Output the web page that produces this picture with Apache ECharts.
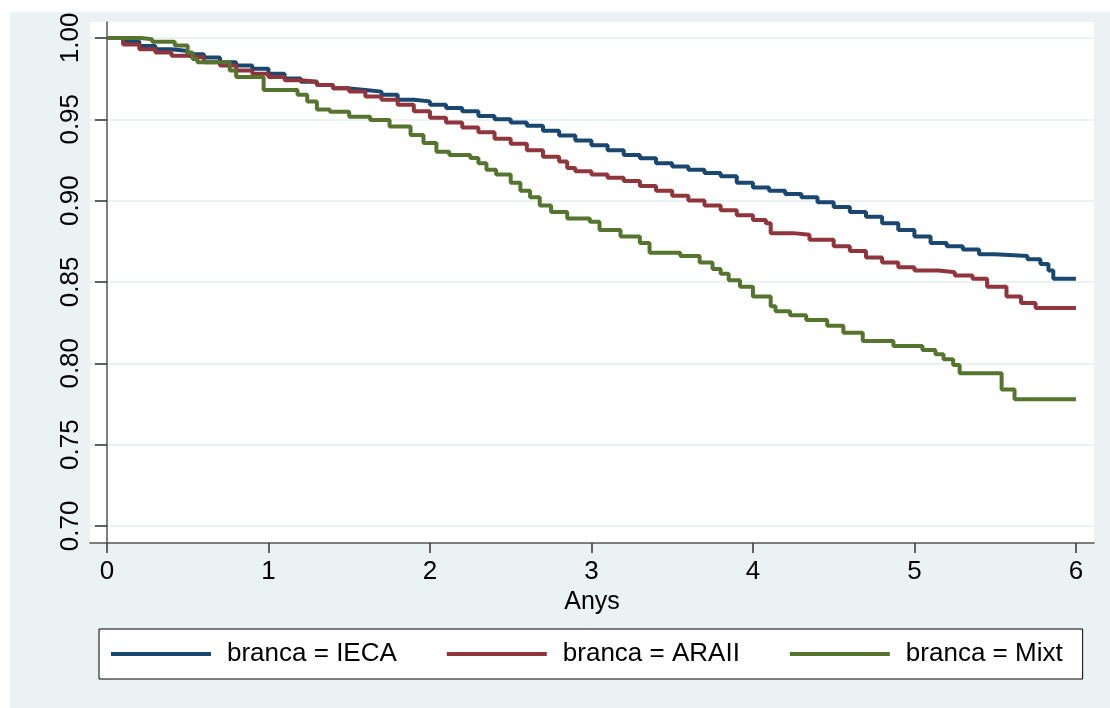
<!DOCTYPE html>
<html>
<head>
<meta charset="utf-8">
<script src="https://cdn.jsdelivr.net/npm/echarts@6/dist/echarts.min.js"></script>
<style>
  html, body { margin: 0; padding: 0; background: #fff; }
  #chart { width: 1110px; height: 708px; }
</style>
</head>
<body>
<div id="chart"></div>
<script>
// Kaplan-Meier survival by branca
var seriesNames = ['branca = IECA', 'branca = ARAII', 'branca = Mixt'];
var xTicks = [0, 1, 2, 3, 4, 5, 6];
var yTicks = [0.70, 0.75, 0.80, 0.85, 0.90, 0.95, 1.00];

var iecaT = [0, 0.1, 0.2, 0.3, 0.4, 0.5, 0.6, 0.7, 0.8, 0.9, 1.0, 1.1, 1.2, 1.3, 1.4, 1.5, 1.6, 1.7, 1.8, 1.9,
  2.0, 2.1, 2.2, 2.3, 2.4, 2.5, 2.6, 2.7, 2.8, 2.9, 3.0, 3.1, 3.2, 3.3, 3.4, 3.5, 3.6, 3.7, 3.8, 3.9,
  4.0, 4.1, 4.2, 4.3, 4.4, 4.5, 4.6, 4.7, 4.8, 4.9, 5.0, 5.1, 5.2, 5.3, 5.4, 5.5, 5.7, 5.78, 5.83, 5.86, 6.0];
var iecaS = [1.000, 0.998, 0.995, 0.993, 0.992, 0.990, 0.988, 0.985, 0.983, 0.981, 0.978, 0.975, 0.973, 0.971, 0.969, 0.968, 0.967, 0.965, 0.962, 0.961,
  0.959, 0.957, 0.955, 0.952, 0.950, 0.948, 0.946, 0.943, 0.940, 0.937, 0.934, 0.931, 0.928, 0.926, 0.923, 0.921, 0.919, 0.917, 0.915, 0.911,
  0.908, 0.906, 0.904, 0.902, 0.899, 0.896, 0.893, 0.890, 0.886, 0.882, 0.878, 0.874, 0.872, 0.870, 0.867, 0.866, 0.864, 0.861, 0.857, 0.852, 0.852];

var araiiT = [0, 0.1, 0.2, 0.3, 0.4, 0.5, 0.6, 0.7, 0.8, 0.9, 1.0, 1.1, 1.2, 1.3, 1.4, 1.5, 1.6, 1.7, 1.8, 1.9,
  2.0, 2.1, 2.2, 2.3, 2.4, 2.5, 2.6, 2.7, 2.8, 2.85, 2.9, 3.0, 3.1, 3.2, 3.3, 3.4, 3.5, 3.6, 3.7, 3.8, 3.9,
  4.0, 4.08, 4.11, 4.25, 4.35, 4.5, 4.6, 4.7, 4.8, 4.9, 5.0, 5.15, 5.25, 5.36, 5.45, 5.57, 5.66, 5.75, 6.0];
var araiiS = [1.000, 0.996, 0.993, 0.991, 0.989, 0.988, 0.985, 0.983, 0.980, 0.978, 0.976, 0.974, 0.973, 0.971, 0.969, 0.967, 0.964, 0.962, 0.959, 0.955,
  0.951, 0.948, 0.945, 0.942, 0.938, 0.935, 0.931, 0.927, 0.924, 0.920, 0.918, 0.916, 0.914, 0.912, 0.909, 0.906, 0.903, 0.900, 0.897, 0.894, 0.891,
  0.888, 0.886, 0.880, 0.879, 0.876, 0.872, 0.869, 0.865, 0.862, 0.859, 0.857, 0.856, 0.854, 0.852, 0.847, 0.841, 0.837, 0.834, 0.834];

var mixtT = [0, 0.21, 0.28, 0.42, 0.5, 0.53, 0.56, 0.76, 0.80, 0.97, 1.18, 1.24, 1.3, 1.38, 1.5, 1.63, 1.75, 1.88, 1.96,
  2.04, 2.12, 2.25, 2.3, 2.35, 2.41, 2.5, 2.56, 2.62, 2.68, 2.75, 2.85, 2.99, 3.05, 3.18, 3.3, 3.36, 3.55, 3.67, 3.75, 3.8, 3.85, 3.92,
  4.0, 4.11, 4.14, 4.23, 4.33, 4.46, 4.56, 4.68, 4.87, 5.05, 5.13, 5.18, 5.24, 5.28, 5.54, 5.62, 6.0];
var mixtS = [1.000, 0.9992, 0.9977, 0.9953, 0.991, 0.987, 0.985, 0.980, 0.976, 0.968, 0.965, 0.961, 0.956, 0.9547, 0.9516, 0.9496, 0.9455, 0.9403, 0.9354,
  0.930, 0.928, 0.9262, 0.923, 0.919, 0.916, 0.911, 0.906, 0.902, 0.897, 0.893, 0.889, 0.887, 0.882, 0.878, 0.874, 0.868, 0.866, 0.862, 0.858, 0.855, 0.851, 0.847,
  0.841, 0.835, 0.832, 0.8295, 0.8266, 0.823, 0.8188, 0.8137, 0.8106, 0.8081, 0.8055, 0.8024, 0.799, 0.7938, 0.7839, 0.7778, 0.7778];

function pairs(t, s) {
  return t.map(function (v, i) { return [v, s[i]]; });
}

var colors = ['#1A476F', '#90353B', '#55752F'];
var font = 'Liberation Sans, Arial, sans-serif';

var myChart = echarts.init(document.getElementById('chart'));
myChart.setOption({
  animation: false,
  backgroundColor: '#fff',
  color: colors,
  graphic: [
    { type: 'rect', z: -10, shape: { x: 10, y: 12, width: 1100, height: 696 }, style: { fill: '#EAF2F3' } }
  ],
  grid: {
    show: true,
    left: 90,
    top: 22,
    width: 1004,
    height: 521,
    backgroundColor: '#fff',
    borderWidth: 0
  },
  legend: {
    data: seriesNames,
    left: 99,
    top: 629,
    padding: [12, 20, 12, 12],
    itemGap: 50,
    itemWidth: 100,
    itemHeight: 4,
    icon: 'rect',
    backgroundColor: '#fff',
    borderColor: '#000',
    borderWidth: 1,
    borderRadius: 0,
    textStyle: { fontFamily: font, fontSize: 26, color: '#000', padding: [0, 0, 0, 11] }
  },
  xAxis: {
    type: 'value',
    min: -0.105,
    max: 6.112,
    name: 'Anys',
    nameLocation: 'middle',
    nameGap: 44,
    nameTextStyle: { fontFamily: font, fontSize: 25, color: '#000' },
    axisLine: { lineStyle: { color: '#555', width: 1.5 } },
    axisTick: { length: 10, lineStyle: { color: '#333', width: 1.5 }, customValues: xTicks },
    axisLabel: { customValues: xTicks, margin: 16, fontFamily: font, fontSize: 26, color: '#000' },
    splitLine: { show: false }
  },
  yAxis: {
    type: 'value',
    min: 0.6895,
    max: 1.0098,
    axisLine: { show: true, lineStyle: { color: '#555', width: 1.5 } },
    axisTick: { show: true, length: 12, lineStyle: { color: '#333', width: 1.5 }, customValues: yTicks },
    axisLabel: {
      customValues: yTicks,
      rotate: 90,
      margin: 6,
      fontFamily: font,
      fontSize: 26,
      color: '#000',
      formatter: function (v) { return v.toFixed(2); }
    },
    splitLine: { show: true, lineStyle: { color: '#EAF2F3', width: 2 } }
  },
  series: [
    { name: seriesNames[0], type: 'line', step: 'end', showSymbol: false, lineStyle: { width: 4 }, data: pairs(iecaT, iecaS) },
    { name: seriesNames[1], type: 'line', step: 'end', showSymbol: false, lineStyle: { width: 4 }, data: pairs(araiiT, araiiS) },
    { name: seriesNames[2], type: 'line', step: 'end', showSymbol: false, lineStyle: { width: 4 }, data: pairs(mixtT, mixtS) }
  ]
});
</script>
</body>
</html>
